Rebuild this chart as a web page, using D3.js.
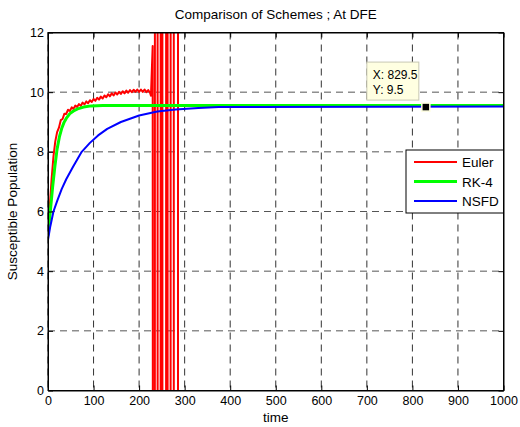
<!DOCTYPE html>
<html>
<head>
<meta charset="utf-8">
<script src="https://cdn.jsdelivr.net/npm/d3@7"></script>
<style>
  body { margin: 0; background: #fff; }
  svg { font-family: 'Liberation Sans', Arial, sans-serif; }
</style>
</head>
<body>
<div id="chart"></div>
<script>
// Euler: rise with a small sawtooth, then blows up (alternating sign) after t ~ 230
const eulerT = [0, 4, 8, 12, 16, 20, 24, 28, 32, 36, 40, 44, 48, 52, 56, 60, 64, 68, 72, 76,
  80, 84, 88, 92, 96, 100, 104, 108, 112, 116, 120, 124, 128, 132, 136, 140, 144, 148, 152, 156,
  160, 164, 168, 172, 176, 180, 184, 188, 192, 196, 200, 204, 208, 212, 216, 220, 224, 226, 229.8,
  231.2, 234.2, 235, 240.3, 241.1, 246.9, 247.7, 250.8, 251.6, 258.9, 259.7, 262.2, 263,
  268.8, 269.6, 275.8, 276.6, 285, 285.8];
const eulerS = [5.2, 6.2, 7.1, 7.85, 8.35, 8.66, 8.81, 9.06, 9.1, 9.28, 9.27, 9.41, 9.37, 9.49, 9.44, 9.55, 9.5, 9.6, 9.54, 9.65,
  9.59, 9.69, 9.63, 9.73, 9.67, 9.77, 9.71, 9.81, 9.75, 9.85, 9.79, 9.89, 9.83, 9.93, 9.86, 9.96, 9.89, 9.99, 9.92, 10.01,
  9.94, 10.03, 9.96, 10.05, 9.98, 10.07, 10.0, 10.08, 10.01, 10.09, 10.01, 10.09, 10.01, 10.09, 10.0, 10.07, 9.98, 9.88, 11.55,
  -40, -45, 50, 55, -60, -65, 70, 75, -80, -85, 90, 95, -100,
  -105, 110, 115, -120, -125, 130];

const rk4T = [0, 5, 10, 15, 20, 25, 30, 35, 40, 48, 56, 65, 78, 95, 120, 1000];
const rk4S = [5.2, 6.0, 6.8, 7.5, 8.1, 8.5, 8.78, 8.98, 9.12, 9.28, 9.37, 9.44, 9.5, 9.54, 9.55, 9.55];

const nsfdT = [0, 5, 12, 20, 30, 40, 55, 74, 92, 110, 130, 160, 200, 240, 280, 330, 375, 1000];
const nsfdS = [5.05, 5.5, 6.0, 6.35, 6.75, 7.08, 7.5, 8.0, 8.3, 8.55, 8.77, 9.0, 9.22, 9.35, 9.42, 9.47, 9.5, 9.52];

const xTicks = [0, 100, 200, 300, 400, 500, 600, 700, 800, 900, 1000];
const yTicks = [0, 2, 4, 6, 8, 10, 12];

const seriesNames = ['Euler', 'RK-4', 'NSFD'];
const seriesColors = ['#ff0000', '#00ff00', '#0000ff'];
const seriesWidths = [2, 3, 2];

const tipX = 829.5;
const tipY = 9.5;

const width = 520;
const height = 427;
const margin = { top: 32.5, right: 16.5, bottom: 36.5, left: 48 };
const plotW = width - margin.left - margin.right;
const plotH = height - margin.top - margin.bottom;

const x = d3.scaleLinear().domain([0, 1000]).range([0, plotW]);
const y = d3.scaleLinear().domain([0, 12]).range([plotH, 0]);

const svg = d3.select('#chart').append('svg')
  .attr('width', width)
  .attr('height', height);

const g = svg.append('g')
  .attr('transform', 'translate(' + margin.left + ',' + margin.top + ')');

svg.append('defs').append('clipPath').attr('id', 'plotclip')
  .append('rect').attr('width', plotW).attr('height', plotH);

// grid
g.append('g').selectAll('line').data(xTicks).enter().append('line')
  .attr('x1', d => x(d)).attr('x2', d => x(d))
  .attr('y1', 0).attr('y2', plotH)
  .attr('stroke', '#333').attr('stroke-dasharray', '7,5').attr('stroke-width', 1);
g.append('g').selectAll('line').data(yTicks).enter().append('line')
  .attr('y1', d => y(d)).attr('y2', d => y(d))
  .attr('x1', 0).attr('x2', plotW)
  .attr('stroke', '#555').attr('stroke-dasharray', '7,5').attr('stroke-width', 1);

// series
const series = [
  d3.zip(eulerT, eulerS),
  d3.zip(rk4T, rk4S),
  d3.zip(nsfdT, nsfdS)
];
const line = d3.line().x(d => x(d[0])).y(d => y(d[1]));

g.append('g').attr('clip-path', 'url(#plotclip)')
  .selectAll('path').data(series).enter().append('path')
  .attr('d', line)
  .attr('fill', 'none')
  .attr('stroke', (d, i) => seriesColors[i])
  .attr('stroke-width', (d, i) => seriesWidths[i])
  .attr('stroke-linejoin', 'round');

// axes (ticks point inward like matlab)
const xAxis = g.append('g').attr('transform', 'translate(0,' + plotH + ')')
  .call(d3.axisBottom(x).tickValues(xTicks).tickFormat(d3.format('d'))
    .tickSizeInner(-5).tickSizeOuter(0).tickPadding(6));
const xTop = g.append('g')
  .call(d3.axisTop(x).tickValues(xTicks).tickSizeInner(-5).tickSizeOuter(0).tickFormat(''));
const yAxis = g.append('g')
  .call(d3.axisLeft(y).tickValues(yTicks).tickSizeInner(-5).tickSizeOuter(0).tickPadding(4));
const yRight = g.append('g').attr('transform', 'translate(' + plotW + ',0)')
  .call(d3.axisRight(y).tickValues(yTicks).tickSizeInner(-5).tickSizeOuter(0).tickFormat(''));

[xAxis, xTop, yAxis, yRight].forEach(a => {
  a.selectAll('.domain').attr('stroke', '#000');
  a.selectAll('.tick line').attr('stroke', '#000');
  a.selectAll('text').attr('fill', '#000').style('font-size', '12.5px').style('font-family', null);
});

g.append('rect').attr('width', plotW).attr('height', plotH)
  .attr('fill', 'none').attr('stroke', '#000').attr('stroke-width', 1);

// title + labels
svg.append('text')
  .attr('x', margin.left + plotW / 2).attr('y', 19)
  .attr('text-anchor', 'middle').style('font-size', '13.5px')
  .text('Comparison of Schemes ; At DFE');
svg.append('text')
  .attr('x', margin.left + plotW / 2).attr('y', 422)
  .attr('text-anchor', 'middle').style('font-size', '13.5px')
  .text('time');
svg.append('text')
  .attr('transform', 'translate(17,' + (margin.top + plotH / 2) + ') rotate(-90)')
  .attr('text-anchor', 'middle').style('font-size', '13.5px')
  .text('Susceptible Population');

// legend
const legend = g.append('g').attr('transform', 'translate(' + (plotW - 97.5) + ',117.5)');
legend.append('rect').attr('width', 97.5).attr('height', 63)
  .attr('fill', '#fff').attr('stroke', '#000');
seriesNames.forEach((name, i) => {
  const ly = 12 + i * 19.5;
  legend.append('line')
    .attr('x1', 8).attr('x2', 51).attr('y1', ly).attr('y2', ly)
    .attr('stroke', seriesColors[i]).attr('stroke-width', seriesWidths[i]);
  legend.append('text')
    .attr('x', 56).attr('y', ly + 5)
    .style('font-size', '13.5px')
    .text(name);
});

// data tip
const px = x(tipX), py = y(tipY);
const tip = g.append('g');
tip.append('rect')
  .attr('x', px - 59).attr('y', py - 45).attr('width', 52).attr('height', 38)
  .attr('fill', '#ffffe1').attr('stroke', '#c8c8b4');
tip.append('text').attr('x', px - 53).attr('y', py - 28)
  .style('font-size', '12px').text('X: ' + tipX);
tip.append('text').attr('x', px - 53).attr('y', py - 13)
  .style('font-size', '12px').text('Y: ' + tipY);
tip.append('rect')
  .attr('x', px - 4).attr('y', py - 4).attr('width', 8).attr('height', 8)
  .attr('fill', '#000').attr('stroke', '#ffffe1').attr('stroke-width', 1.5);
</script>
</body>
</html>
